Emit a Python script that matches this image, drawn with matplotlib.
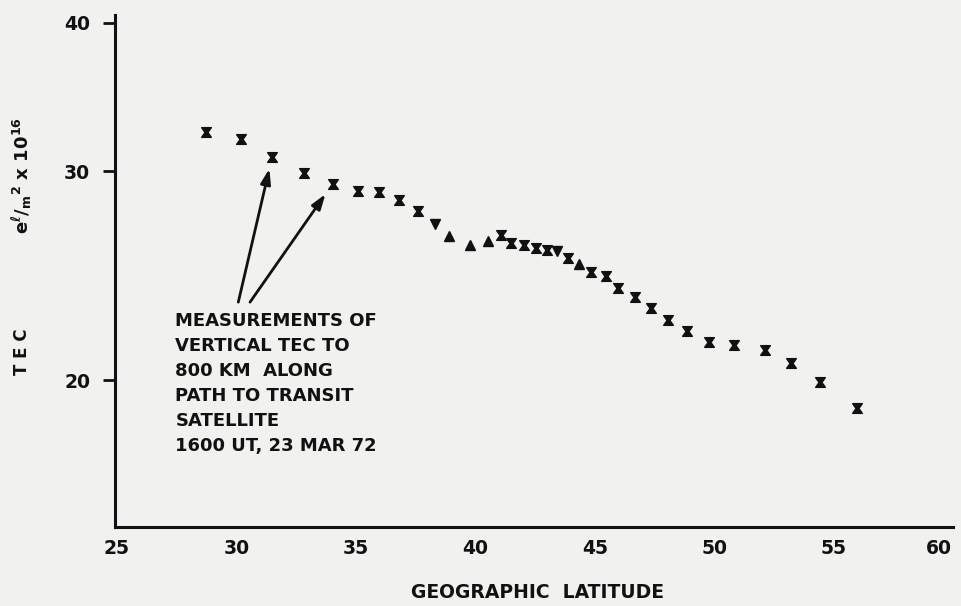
import matplotlib.pyplot as plt
import matplotlib.transforms as mtransforms
from matplotlib.path import Path

plt.rcParams['font.family'] = ['DejaVu Sans']
plt.rcParams['font.weight'] = 'bold'
plt.rcParams['mathtext.default'] = 'bf'

# latitude (deg) and vertical TEC (el/m^2 x 10^16)
latitude = [28.71, 30.18, 31.50, 32.84, 34.03, 35.08, 35.96, 36.82, 37.62, 38.32,
            38.92, 39.78, 40.55, 41.07, 41.50, 42.06, 42.55, 42.99, 43.44, 43.90,
            44.36, 44.84, 45.47, 45.97, 46.70, 47.35, 48.07, 48.88, 49.80, 50.85,
            52.11, 53.21, 54.45, 55.98]
tec = [32.38, 31.93, 30.86, 29.90, 29.27, 28.84, 28.80, 28.36, 27.76, 27.09,
       26.45, 26.01, 26.18, 26.53, 26.11, 26.01, 25.86, 25.76, 25.72, 25.36,
       25.04, 24.66, 24.46, 23.93, 23.50, 23.00, 22.50, 22.00, 21.54, 21.43,
       21.20, 20.68, 19.92, 18.95]
# symbol drawn for each point: x = hourglass cross, v / ^ = triangles
symbol = ['x'] * 9 + ['v', '^', '^', '^'] + ['x'] * 5 + ['v', 'x', '^'] + ['x'] * 13

xticks = [25, 30, 35, 40, 45, 50, 55, 60]
yticks = [20, 30, 40]

note = ("MEASUREMENTS OF\nVERTICAL TEC TO\n800 KM  ALONG\n"
        "PATH TO TRANSIT\nSATELLITE\n1600 UT, 23 MAR 72")

bg = '#f1f1ef'
ink = '#111111'
hourglass = Path([(-1, 1), (1, 1), (0.3, 0), (1, -1), (-1, -1), (-0.3, 0), (-1, 1)],
                 closed=True)
marker_map = {'x': hourglass, 'v': 'v', '^': '^'}

fig = plt.figure(figsize=(9.61, 6.06), dpi=100, facecolor=bg)
ax = fig.add_axes([0.1197, 0.1304, 0.872, 0.8448], facecolor=bg)

for kind in ['x', 'v', '^']:
    xs = [a for a, s in zip(latitude, symbol) if s == kind]
    ys = [b for b, s in zip(tec, symbol) if s == kind]
    ax.plot(xs, ys, linestyle='none', marker=marker_map[kind],
            markersize=7 if kind == 'x' else 6.5, color=ink, mec=ink)

ax.set_yscale('log')
ax.set_xlim(24.92, 60.0)
ax.set_ylim(15.05, 40.6)

ax.set_xticks(xticks)
ax.set_xticklabels([str(t) for t in xticks])
ax.set_yticks(yticks)
ax.set_yticklabels([str(t) for t in yticks])
ax.yaxis.set_minor_locator(plt.NullLocator())
ax.tick_params(axis='x', length=0, pad=9, labelsize=13.5, colors=ink)
ax.tick_params(axis='y', length=9, width=2, direction='out', pad=9,
               labelsize=13.5, colors=ink)
# the "60" label sits a little left of its nominal place in the original
lbl = ax.get_xticklabels()[-1]
lbl.set_transform(lbl.get_transform() +
                  mtransforms.ScaledTranslation(-0.14, 0, fig.dpi_scale_trans))

for side in ['top', 'right']:
    ax.spines[side].set_visible(False)
for side in ['left', 'bottom']:
    ax.spines[side].set_linewidth(2.2)
    ax.spines[side].set_color(ink)

fig.text(0.559, 0.022, 'GEOGRAPHIC  LATITUDE', ha='center', va='center',
         fontsize=13.5, fontweight='bold', color=ink)
fig.text(0.023, 0.42, 'T E C', rotation=90, ha='center', va='center',
         fontsize=12, color=ink)
fig.text(0.023, 0.71, r'e$^{\ell}$/$_{m}$$^{2}$ x 10$^{16}$', rotation=90,
         ha='center', va='center', fontsize=13, color=ink)

# arrows from the note to two of the measurements
tail_y = 23.27
for idx, tail_x in [(2, 30.08), (4, 30.57)]:
    ax.annotate('', xy=(latitude[idx], tec[idx]), xytext=(tail_x, tail_y),
                arrowprops=dict(arrowstyle='-|>,head_length=0.9,head_width=0.3',
                                lw=2, color=ink, shrinkA=0, shrinkB=9))

ax.text(0.072, 0.42, note, transform=ax.transAxes, ha='left', va='top',
        fontsize=13, linespacing=1.5, color=ink)

fig.savefig('out.png', dpi=100, facecolor=bg)
